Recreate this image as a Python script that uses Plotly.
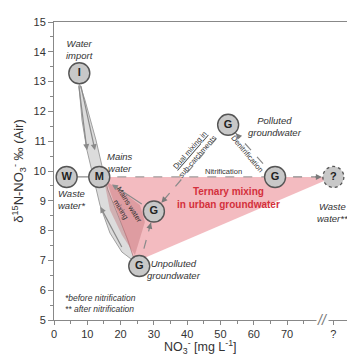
import math
import plotly.graph_objects as go

# ---------------- data ----------------
node_names = ["I", "W", "M", "Gmid", "Gunp", "Gpol", "Gright", "Q"]
node_text = ["I", "W", "M", "G", "G", "G", "G", "?"]
node_x = [7.6, 3.8, 13.6, 30.0, 25.6, 52.3, 66.4, 83.9]
node_y = [13.28, 9.8, 9.8, 8.64, 6.81, 11.55, 9.8, 9.8]

# grey "mains water" lens band (outline, data units)
band_x = [7.5, 8.4, 9.9, 11.7, 13.8, 16.8, 20.4, 24.3, 22.2, 19.2, 16.2, 14.7, 12.6, 9.3, 7.8]
band_y = [12.89, 11.71, 10.70, 9.87, 8.86, 7.92, 7.28, 6.95, 7.68, 8.52, 9.36, 10.03, 11.04, 12.38, 12.89]

# ternary mixing triangle
tri_x = [15.3, 83.9, 24.3]
tri_y = [9.8, 9.8, 6.95]

# mains-water-mixing overlap region
mix_x = [15.0, 19.8, 25.8, 27.3, 24.3, 20.4, 16.8]
mix_y = [9.70, 9.36, 8.86, 8.29, 7.18, 7.85, 8.69]

x_tickvals = [0, 10, 20, 30, 40, 50, 60, 70, 83.9]
x_ticktext = ["0", "10", "20", "30", "40", "50", "60", "70", "?"]
x_minor = [5, 15, 25, 35, 45, 55, 65, 75]
x_range = [0, 88]
y_range = [5, 15]

# ---------------- layout constants ----------------
W, H = 347, 357
ML, MR, MT, MB = 54, 0, 22, 37
FONT = "Liberation Sans, Arial, sans-serif"
pxx = (W - ML - MR) / (x_range[1] - x_range[0])
pxy = (H - MT - MB) / (y_range[1] - y_range[0])
R = 10.5  # node radius px

N = {n: (x, y) for n, x, y in zip(node_names, node_x, node_y)}

fig = go.Figure()

# grey band
fig.add_trace(go.Scatter(x=band_x + [band_x[0]], y=band_y + [band_y[0]], fill="toself",
                         fillcolor="#dcdcdc", line=dict(color="#a0a0a0", width=1),
                         mode="lines", hoverinfo="skip", showlegend=False))
# ternary triangle
fig.add_trace(go.Scatter(x=tri_x + [tri_x[0]], y=tri_y + [tri_y[0]], fill="toself",
                         fillcolor="rgba(232,120,130,0.50)", line=dict(width=0),
                         mode="lines", hoverinfo="skip", showlegend=False))
# darker overlap
fig.add_trace(go.Scatter(x=mix_x + [mix_x[0]], y=mix_y + [mix_y[0]], fill="toself",
                         fillcolor="rgba(190,110,115,0.40)", line=dict(width=0),
                         mode="lines", hoverinfo="skip", showlegend=False))


def line(a, b, dash="dash", color="#8a8a8a", width=1.2):
    fig.add_trace(go.Scatter(x=[N[a][0], N[b][0]], y=[N[a][1], N[b][1]], mode="lines",
                             line=dict(color=color, width=width, dash=dash),
                             hoverinfo="skip", showlegend=False, cliponaxis=False))


def head(a, b, color="#7a7a7a"):
    # arrowhead at node b, coming from node a
    dx = (N[b][0] - N[a][0]) * pxx
    dy = -(N[b][1] - N[a][1]) * pxy
    L = math.hypot(dx, dy)
    ux, uy = dx / L, dy / L
    fig.add_annotation(x=N[b][0], y=N[b][1], ax=-ux * (R + 9), ay=-uy * (R + 9),
                       xref="x", yref="y", axref="pixel", ayref="pixel",
                       showarrow=True, arrowhead=2, arrowsize=1, arrowwidth=1.2,
                       arrowcolor=color, standoff=R + 1, text="")


# W - M connector
line("W", "M", dash="solid", color="#8a8a8a")
# dashed top edge + nitrification
line("M", "Gright", dash="dash", color="#a09a9a")
line("Gright", "Q", dash="dash", color="#8a8a8a")
head("Gright", "Q")
line("Gright", "Gpol")
head("Gright", "Gpol")
line("Gpol", "Gmid")
head("Gpol", "Gmid")
line("Gunp", "Gmid")
head("Gunp", "Gmid")

# solid grey arrows
def sarrow(x0, y0, x1, y1):
    fig.add_annotation(x=x1, y=y1, ax=x0, ay=y0, xref="x", yref="y", axref="x", ayref="y",
                       showarrow=True, arrowhead=2, arrowsize=1, arrowwidth=1.2,
                       arrowcolor="#8a8a8a", text="")

sarrow(7.4, 12.9, 9.9, 10.7)
sarrow(8.0, 12.9, 12.3, 10.7)
sarrow(26.8, 8.86, 17.4, 9.55)
sarrow(20.6, 7.4, 13.9, 8.8)

# nodes
fig.add_trace(go.Scatter(
    x=node_x, y=node_y, mode="markers+text", text=["<b>%s</b>" % t for t in node_text],
    textposition="middle center", textfont=dict(family=FONT, size=11, color="#222"),
    marker=dict(size=2 * R, color="#c8c8c8",
                line=dict(color=["#555"] * 7 + ["rgba(0,0,0,0)"], width=1.4)),
    hoverinfo="skip", showlegend=False, cliponaxis=False))
fig.add_shape(type="circle", xref="x", yref="y", xsizemode="pixel", ysizemode="pixel",
              xanchor=N["Q"][0], yanchor=N["Q"][1], x0=-R, x1=R, y0=-R, y1=R,
              line=dict(color="#555", width=1.3, dash="dot"), layer="above")


def label(x, y, t, size=9.5, color="#333", angle=0, align="center"):
    fig.add_annotation(x=x, y=y, xref="x", yref="y", text=t, showarrow=False,
                       font=dict(family=FONT, size=size, color=color), textangle=angle,
                       align=align)


label(7.8, 14.08, "<i>Water<br>import</i>")
label(19.8, 10.3, "<i>Mains<br>water</i>")
label(5.4, 9.03, "<i>Waste<br>water*</i>")
label(83.5, 8.62, "<i>Waste<br>water**</i>")
label(66.4, 11.48, "<i>Polluted<br>groundwater</i>")
label(36.0, 6.68, "<i>Unpolluted<br>groundwater</i>")
label(52.3, 9.1, "<b>Ternary mixing<br>in urban groundwater</b>", size=10, color="#d4303c")
fig.add_annotation(x=2.7, y=5.55, xref="x", yref="y", xanchor="left", showarrow=False,
                   text="<i>*before nitrification<br>** after nitrification</i>", align="left",
                   font=dict(family=FONT, size=8.5, color="#333"))
label(50.8, 9.97, "Nitrification", size=7.5)
label(41.9, 10.6, "<u>Dual mixing in</u><br>sub-catchments", size=7.5, angle=-49)
label(58.0, 10.6, "Denitrification", size=7.5, angle=50)
label(21.3, 8.76, "Mains water<br>mixing", size=7.5, angle=58)

# axis break marker
fig.add_annotation(x=80.5, y=0, xref="x", yref="paper", text="<i>//</i>", showarrow=False,
                   yanchor="middle", bgcolor="white", borderpad=0,
                   font=dict(family=FONT, size=14, color="#777"))

# x-axis title (placed as paper annotation for exact position)
fig.add_annotation(x=0.5, y=-MB / (H - MT - MB), xref="paper", yref="paper",
                   xanchor="center", yanchor="bottom", yshift=-1, showarrow=False,
                   text="NO<sub>3</sub><sup>-</sup> [mg L<sup>-1</sup>]",
                   font=dict(family=FONT, size=12.5, color="#333"))

fig.update_layout(
    width=W, height=H, margin=dict(l=ML, r=MR, t=MT, b=MB),
    plot_bgcolor="white", paper_bgcolor="white",
    font=dict(family=FONT, color="#333"),
    xaxis=dict(range=x_range, tickvals=x_tickvals, ticktext=x_ticktext, automargin=False,
               ticks="outside", ticklen=4, tickcolor="#888", showline=True,
               linecolor="#888", linewidth=1, mirror=True, showgrid=False, zeroline=False,
               tickfont=dict(size=11, color="#333"),
               minor=dict(tickvals=x_minor, ticks="outside", ticklen=3, tickcolor="#888")),
    yaxis=dict(range=y_range, dtick=1, ticks="outside", ticklen=5, tickcolor="#888",
               automargin=False,
               showline=True, linecolor="#888", linewidth=1, showgrid=False, zeroline=False,
               tickfont=dict(size=11, color="#333"),
               minor=dict(dtick=0.5, ticks="outside", ticklen=3, tickcolor="#888"),
               title=dict(text="δ<sup>15</sup>N-NO<sub>3</sub><sup>-</sup> ‰ (Air)",
                          font=dict(size=13, color="#333"), standoff=6)),
)

fig.write_html("out.html", config={"displayModeBar": False},
               post_script="document.body.style.margin='0';document.body.style.overflow='hidden';")
